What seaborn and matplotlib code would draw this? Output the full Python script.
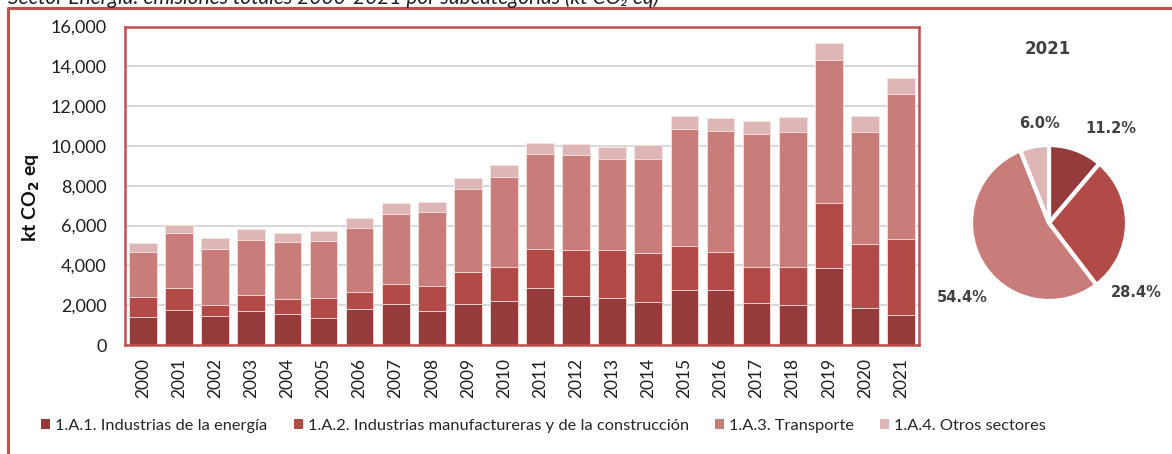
import numpy as np
import pandas as pd
import matplotlib
matplotlib.use("Agg")
import matplotlib.pyplot as plt
from matplotlib.lines import Line2D
from matplotlib.patches import Patch
from matplotlib.ticker import FuncFormatter
import seaborn as sns


YEARS = ["2000", "2001", "2002", "2003", "2004", "2005", "2006", "2007",
         "2008", "2009", "2010", "2011", "2012", "2013", "2014", "2015",
         "2016", "2017", "2018", "2019", "2020", "2021"]
CATEGORIES = [
    "1.A.1. Industrias de la energía",
    "1.A.2. Industrias manufactureras y de la construcción",
    "1.A.3. Transporte",
    "1.A.4. Otros sectores",
]
ENERGIA = [1386, 1737, 1436, 1687, 1570, 1336, 1820, 2037, 1720, 2054, 2221,
           2872, 2455, 2355, 2171, 2739, 2739, 2088, 2004, 3891, 1837, 1500]
MANUFACTURA = [1036, 1135, 568, 835, 751, 1002, 852, 1019, 1219, 1620, 1704,
               1938, 2321, 2405, 2455, 2238, 1937, 1820, 1904, 3240, 3223, 3804]
TRANSPORTE = [2271, 2773, 2822, 2755, 2856, 2889, 3206, 3524, 3724, 4142, 4509,
              4809, 4793, 4592, 4693, 5895, 6096, 6680, 6813, 7198, 5661, 7286]
OTROS = [434, 400, 551, 568, 451, 501, 485, 568, 501, 584, 601,
         535, 551, 618, 734, 634, 634, 685, 735, 835, 785, 804]
PIE_YEAR = "2021"

COLORS = ["#963B3B", "#B24A48", "#C97D7B", "#DEB6B5"]
RED = "#C0504D"
TEXT_DARK = "#404040"
W, H = 1172, 454

# label offsets around the pie (in pie radius units), placed like the source
PIE_LABEL_POS = [(0.79, 1.21), (1.12, -0.89), (-1.11, -0.95), (-0.12, 1.27)]


def main():
    sns.set_style("white")
    plt.rcParams["font.family"] = ["Lato", "DejaVu Sans"]

    series = [ENERGIA, MANUFACTURA, TRANSPORTE, OTROS]
    df = pd.DataFrame({"year": YEARS})
    for name, vals in zip(CATEGORIES, series):
        df[name] = vals
    cum = df[CATEGORIES].cumsum(axis=1)

    fig = plt.figure(figsize=(W / 100, H / 100), dpi=100)
    ax = fig.add_axes([125 / W, 109 / H, 794 / W, 318.5 / H])

    # stacked bars: draw cumulative totals from the top layer down
    for i in reversed(range(len(CATEGORIES))):
        sns.barplot(x=df["year"], y=cum[CATEGORIES[i]], color=COLORS[i],
                    saturation=1, width=0.77, edgecolor="#F4E4E4",
                    linewidth=0.6, errorbar=None, ax=ax)

    ax.set_ylim(0, 16000)
    ax.set_yticks(range(0, 16001, 2000))
    ax.yaxis.set_major_formatter(FuncFormatter(lambda v, _: f"{v:,.0f}"))
    ax.yaxis.grid(True, color="#D9D9D9", linewidth=1.5)
    ax.set_axisbelow(True)
    ax.tick_params(axis="y", length=0, pad=13, labelsize=13, labelcolor="#1F1F1F")
    ax.tick_params(axis="x", length=0, pad=9, labelsize=12.5, labelcolor="#1F1F1F",
                   rotation=90)
    ax.set_xlabel("")
    ax.set_ylabel(r"kt CO$_\mathbf{2}$ eq", fontsize=14, fontweight="bold",
                  color="#111111")
    ax.yaxis.set_label_coords((42 - 125) / 794, (345 - 198) / 318.5)
    for s in ax.spines.values():
        s.set_visible(True)
        s.set_color(RED)
        s.set_linewidth(1.8)

    # pie for the last year
    idx = YEARS.index(PIE_YEAR)
    pie_vals = [s[idx] for s in series]
    total = sum(pie_vals)
    R = 78
    ax_pie = fig.add_axes([(1049 - R) / W, (H - 223 - R) / H, 2 * R / W, 2 * R / H])
    wedges, _ = ax_pie.pie(pie_vals, colors=COLORS, startangle=90,
                           counterclock=False,
                           wedgeprops=dict(edgecolor="white", linewidth=3))
    for wd in wedges:
        wd.set_clip_on(False)
    ax_pie.set_xlim(-1, 1)
    ax_pie.set_ylim(-1, 1)
    ax_pie.set_aspect("equal")
    for v, (lx, ly) in zip(pie_vals, PIE_LABEL_POS):
        ax_pie.text(lx, ly, f"{100 * v / total:.1f}%", ha="center", va="center",
                    fontsize=10.5, fontweight="bold", color=TEXT_DARK,
                    family="DejaVu Sans")
    fig.text(1048 / W, 1 - 49 / H, PIE_YEAR, ha="center", va="center",
             fontsize=12, fontweight="bold", color=TEXT_DARK, family="DejaVu Sans")

    # legend
    handles = [Patch(facecolor=c, edgecolor="none") for c in COLORS]
    fig.legend(handles, CATEGORIES, loc="center left",
               bbox_to_anchor=(33 / W, (H - 426) / H), ncol=4, frameon=False,
               fontsize=11.8, handlelength=0.55, handleheight=0.55,
               handletextpad=0.3, columnspacing=1.6, borderpad=0,
               labelcolor="#262626")

    # outer frame (cropped on the right and bottom) and cropped title
    fig.add_artist(Line2D([8 / W, 8 / W, 1.01], [-0.01, 1 - 8 / H, 1 - 8 / H],
                          transform=fig.transFigure, color=RED, linewidth=2.2))
    fig.text(8 / W, 1 - 4.5 / H,
             "Sector Energía: emisiones totales 2000-2021 por subcategorías (kt CO₂ eq)",
             ha="left", va="baseline", fontsize=15, style="italic", color="#1F1F1F")

    fig.savefig("out.png", dpi=100)
    plt.close(fig)


if __name__ == "__main__":
    main()
